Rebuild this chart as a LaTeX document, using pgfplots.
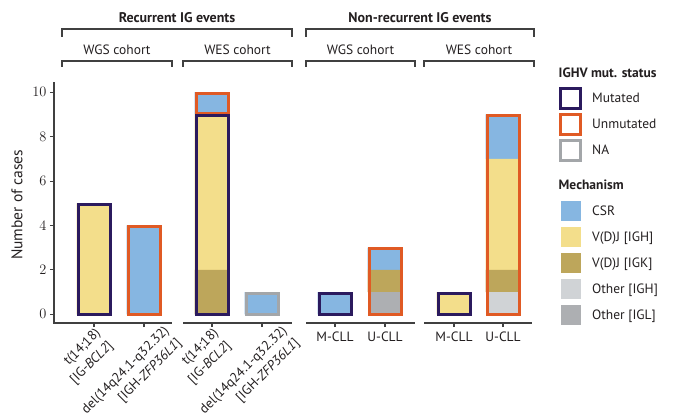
\documentclass[border=0pt]{standalone}
\usepackage{fontspec}
\setmainfont{PT Sans}
\usepackage{pgfplots}
\pgfplotsset{compat=1.18}
\definecolor{mutc}{HTML}{2B1A5E}
\definecolor{unmc}{HTML}{E05A24}
\definecolor{nac}{HTML}{A3A6A9}
\definecolor{csr}{HTML}{86B6E1}
\definecolor{vdjh}{HTML}{F3DE8B}
\definecolor{vdjk}{HTML}{BDA65B}
\definecolor{othh}{HTML}{D0D3D6}
\definecolor{othl}{HTML}{ADAFB2}
\definecolor{axc}{HTML}{404040}
\definecolor{txt}{HTML}{231F20}
\newcommand{\fs}{\fontsize{13.5}{17.5}\selectfont}
\newcommand{\dellab}{\rule{0pt}{21pt}del(14q24.1-q32.32)\hspace*{-15pt}\\{}[IGH-\textit{ZFP36L1}]\hspace*{-15pt}}
\newcommand{\tlab}{t(14;18)\\{}[IG-\textit{BCL2}]}
\pgfplotsset{
  common/.style={at={(0pt,0pt)}, anchor=south west, scale only axis,
    width=478pt, height=241pt, xmin=54, xmax=532, ymin=-0.39, ymax=10.46},
  statimg/.style={legend image code/.code={
      \path[draw=none, fill=none] (0pt,-12pt) rectangle (24pt,12pt);
      \draw[line width=3pt, fill=white, ##1] (2pt,-10pt) rectangle (22pt,10pt);}},
  mechimg/.style={legend image code/.code={
      \path[draw=none, fill=none] (0pt,-12pt) rectangle (24pt,12pt);
      \path[##1, draw=none] (2.5pt,-10pt) rectangle (22.5pt,10pt);}},
}
\begin{document}
\begin{tikzpicture}[x=1pt,y=1pt]
\useasboundingbox (-54,-92) rectangle (623,323);
\begin{axis}[common,
  ybar stacked, bar width=35,
  axis y line*=left, axis x line*=bottom,
  x axis line style={draw=none},
  y axis line style={-, draw=axc, line width=1.2pt},
  ytick={0,2,...,10},
  yticklabel style={font=\fontsize{14}{17}\selectfont, text=txt},
  tick align=outside, major tick length=4pt,
  tick style={draw=axc, line width=1.1pt},
  xtick={94,144,212,262},
  xticklabels={\tlab,\dellab,\tlab,\dellab},
  xticklabel style={rotate=45, anchor=north east, align=right, font=\fs, text=txt, inner sep=0pt},
  extra x ticks={335,385,454,503},
  extra x tick labels={M-CLL,U-CLL,M-CLL,U-CLL},
  extra x tick style={xticklabel style={rotate=-45, anchor=north, align=center, inner sep=5pt}},
  ylabel={Number of cases},
  every axis y label/.style={at={(axis description cs:-0.0774,0.49)}, rotate=90, anchor=center, text=txt, font=\fontsize{15.5}{18}\selectfont},
  legend style={draw=none, fill=none, inner sep=0pt, at={(axis description cs:1.0554,1.083)}, anchor=north west,
    font=\fs, text=txt, column sep=9.5pt, row sep=2pt, nodes={inner sep=0pt}},
  legend cell align=left,
]
% stacked fills: bars at 94,144 (WGS recurrent), 212,262 (WES recurrent), 335,385 (WGS non-rec), 454,503 (WES non-rec)
\addplot[fill=othh, draw=none, forget plot] coordinates {(94,0) (144,0) (212,0) (262,0) (335,0) (385,0) (454,0) (503,1)};
\addplot[fill=othl, draw=none, forget plot] coordinates {(94,0) (144,0) (212,0) (262,0) (335,0) (385,1) (454,0) (503,0)};
\addplot[fill=vdjk, draw=none, forget plot] coordinates {(94,0) (144,0) (212,2) (262,0) (335,0) (385,1) (454,0) (503,1)};
\addplot[fill=vdjh, draw=none, forget plot] coordinates {(94,5) (144,0) (212,7) (262,0) (335,0) (385,0) (454,1) (503,5)};
\addplot[fill=csr, draw=none, forget plot] coordinates {(94,0) (144,4) (212,1) (262,1) (335,1) (385,1) (454,0) (503,2)};
% legend
\addlegendimage{legend image code/.code={\path[draw=none, fill=none] (0pt,-11pt) rectangle (24pt,11pt);}}
\addlegendentry{\hspace*{-33.5pt}\textbf{IGHV mut. status}}
\addlegendimage{statimg, draw=mutc}\addlegendentry{Mutated}
\addlegendimage{statimg, draw=unmc}\addlegendentry{Unmutated}
\addlegendimage{statimg, draw=nac}\addlegendentry{NA}
\addlegendimage{legend image code/.code={\path[draw=none, fill=none] (0pt,-12pt) rectangle (24pt,21pt);}}
\addlegendentry{\hspace*{-33.5pt}\textbf{Mechanism}}
\addlegendimage{mechimg, fill=csr}\addlegendentry{CSR}
\addlegendimage{mechimg, fill=vdjh}\addlegendentry{V(D)J [IGH]}
\addlegendimage{mechimg, fill=vdjk}\addlegendentry{V(D)J [IGK]}
\addlegendimage{mechimg, fill=othh}\addlegendentry{Other [IGH]}
\addlegendimage{mechimg, fill=othl}\addlegendentry{Other [IGL]}
\end{axis}
\begin{axis}[common, hide axis]
% IGHV status borders
\addplot[draw=unmc, line width=3pt, line join=miter, mark=none] coordinates {(196,9.05) (228,9.05) (228,9.95) (196,9.95)} -- cycle;
\addplot[draw=mutc, line width=3pt, line join=miter, mark=none] coordinates {(78,0) (110,0) (110,4.95) (78,4.95)} -- cycle;
\addplot[draw=unmc, line width=3pt, line join=miter, mark=none] coordinates {(128,0) (160,0) (160,3.95) (128,3.95)} -- cycle;
\addplot[draw=mutc, line width=3pt, line join=miter, mark=none] coordinates {(196,0) (228,0) (228,8.95) (196,8.95)} -- cycle;
\addplot[draw=nac, line width=3pt, line join=miter, mark=none] coordinates {(246,0) (278,0) (278,0.95) (246,0.95)} -- cycle;
\addplot[draw=mutc, line width=3pt, line join=miter, mark=none] coordinates {(319,0) (351,0) (351,0.95) (319,0.95)} -- cycle;
\addplot[draw=unmc, line width=3pt, line join=miter, mark=none] coordinates {(369,0) (401,0) (401,2.95) (369,2.95)} -- cycle;
\addplot[draw=mutc, line width=3pt, line join=miter, mark=none] coordinates {(438,0) (470,0) (470,0.95) (438,0.95)} -- cycle;
\addplot[draw=unmc, line width=3pt, line join=miter, mark=none] coordinates {(487,0) (519,0) (519,8.95) (487,8.95)} -- cycle;
\end{axis}
% panel axis lines
\begin{scope}[draw=axc, line width=1.2pt]
\draw (-0.6,0) -- (118,0);
\draw (129,0) -- (238,0);
\draw (252,0) -- (361,0);
\draw (370,0) -- (478,0);
\end{scope}
% brackets
\begin{scope}[draw=axc, line width=1.1pt]
\draw (8,286) -- (8,294) -- (238,294) -- (238,286);
\draw (252,286) -- (252,294) -- (480,294) -- (480,286);
\draw (8,256) -- (8,262) -- (118,262) -- (118,256);
\draw (129,256) -- (129,262) -- (238,262) -- (238,256);
\draw (252,256) -- (252,262) -- (361,262) -- (361,256);
\draw (370,256) -- (370,262) -- (480,262) -- (480,256);
\end{scope}
\node[font=\fontsize{14}{16}\selectfont\bfseries, text=txt] at (123,305) {Recurrent IG events};
\node[font=\fontsize{14}{16}\selectfont\bfseries, text=txt] at (366,305) {Non-recurrent IG events};
\node[font=\fs, text=txt] at (63,273) {WGS cohort};
\node[font=\fs, text=txt] at (183.5,273) {WES cohort};
\node[font=\fs, text=txt] at (306.5,273) {WGS cohort};
\node[font=\fs, text=txt] at (425,273) {WES cohort};
\end{tikzpicture}
\end{document}
